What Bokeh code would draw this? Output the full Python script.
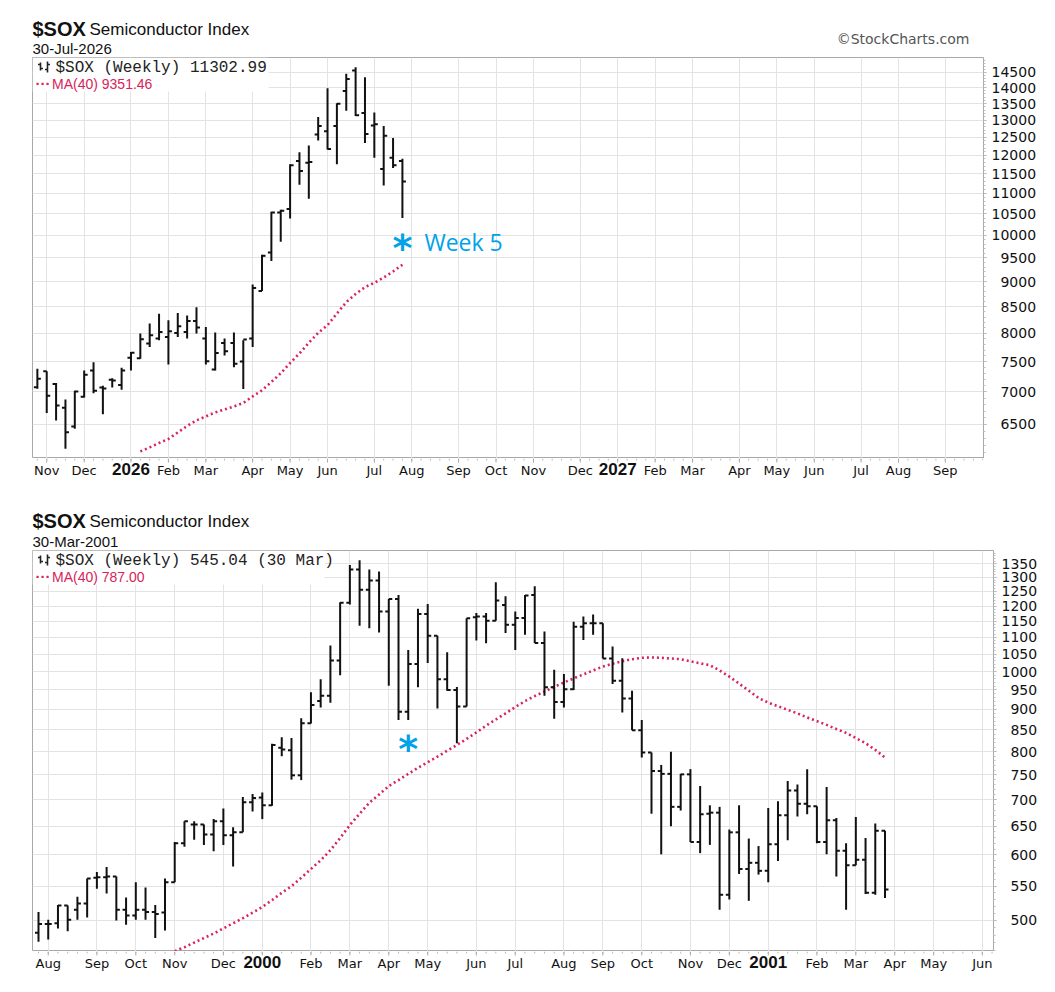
import pandas as pd
from bokeh.plotting import figure
from bokeh.layouts import column
from bokeh.models import Range1d, FixedTicker, Label, BoxAnnotation, ColumnDataSource
from bokeh.core.properties import value
from bokeh.embed import file_html
from bokeh.resources import INLINE

NaN = float("nan")

# ---------------- top chart: $SOX weekly, 27-Oct-2025 .. 27-Jul-2026 ----------------
top_first_week = "2025-10-27"
top_open = [7076, 7338, 7128, 6753, 6470, 6924, 7350, 7072, 7195, 7112,
            7566, 7559, 7816, 7905, 7934, 8006, 8024, 8228, 7905, 7367,
            7827, 7827, 7500, 7905, 8808, 9615, 10532, 10617, 11842, 11797,
            12579, 12676, 12824, 13890, 14557, 13209, 12845, 11632, 11929, 11842]
top_high = [7379, 7338, 7145, 6879, 7017, 7350, 7488, 7100, 7222, 7395,
            7666, 7995, 8180, 8365, 8241, 8376, 8333, 8487, 8117, 8013,
            7905, 8013, 7875, 8942, 9565, 10550, 10600, 11755, 12083, 12269,
            13094, 13982, 13509, 14447, 14666, 14333, 13228, 12824, 12481, 11903]
top_low = [7051, 6671, 6560, 6150, 6436, 6912, 6978, 6652, 7072, 7033,
           7350, 7548, 7755, 7875, 7450, 7934, 7905, 7995, 7450, 7350,
           7607, 7405, 7045, 7752, 8808, 9432, 9855, 10393, 11218, 10867,
           12408, 12158, 11755, 13281, 13125, 12339, 11929, 11200, 11658, 10402]
top_close = [7212, 6940, 6788, 6387, 7005, 7278, 7017, 7055, 7183, 7350,
             7655, 7893, 7964, 8024, 8037, 8130, 8228, 8106, 7505, 7648,
             7679, 7462, 7887, 8871, 9543, 10532, 10575, 11729, 11579, 11816,
             12824, 12175, 13491, 14280, 13147, 12597, 12876, 12547, 11729, 11302.99]
top_ma40 = [NaN] * 11 + [6113, 6169, 6232, 6289, 6382, 6478, 6560, 6620, 6680, 6726,
                         6772, 6826, 6928, 7027, 7160, 7304, 7476, 7641, 7829, 8008,
                         8149, 8369, 8586, 8750, 8886, 8975, 9085, 9209, 9351.46]
top_tick_dates = ["2025-11-03", "2025-12-01", "2026-01-05", "2026-02-02", "2026-03-02",
                  "2026-04-06", "2026-05-04", "2026-06-01", "2026-07-06", "2026-08-03",
                  "2026-09-07", "2026-10-05", "2026-11-02", "2026-12-07", "2027-01-04",
                  "2027-02-01", "2027-03-01", "2027-04-05", "2027-05-03", "2027-05-31",
                  "2027-07-05", "2027-08-02", "2027-09-06"]
top_tick_labels = ["Nov", "Dec", "2026", "Feb", "Mar", "Apr", "May", "Jun", "Jul", "Aug",
                   "Sep", "Oct", "Nov", "Dec", "2027", "Feb", "Mar", "Apr", "May", "Jun",
                   "Jul", "Aug", "Sep"]
top_y_ticks = [6500, 7000, 7500, 8000, 8500, 9000, 9500, 10000, 10500, 11000,
               11500, 12000, 12500, 13000, 13500, 14000, 14500]

# ---------------- bottom chart: $SOX weekly, 26-Jul-1999 .. 26-Mar-2001 ----------------
bot_first_week = "1999-07-26"
bot_open = [483, 495, 496, 521, 515, 524, 563, 564, 565, 515,
            507, 515, 512, 511, 556, 620, 653, 653, 635, 659,
            634, 639, 695, 704, 689, 809, 803, 749, 866, 921,
            935, 1031, 1211, 1329, 1256, 1289, 1182, 1224, 894, 1021,
            1174, 1105, 979, 950, 907, 1163, 1166, 1152, 1204, 1139,
            1161, 1238, 1083, 957, 919, 952, 1133, 1144, 1144, 1037,
            975, 928, 849, 798, 758, 752, 686, 751, 622, 673,
            675, 537, 639, 577, 587, 574, 618, 670, 718, 692,
            687, 622, 661, 607, 583, 592, 540, 642]
bot_high = [512, 501, 522, 521, 534, 562, 572, 580, 565, 533,
            556, 548, 522, 562, 622, 659, 659, 653, 663, 683,
            648, 705, 711, 714, 818, 833, 831, 878, 944, 979,
            1075, 1213, 1346, 1363, 1329, 1321, 1224, 1238, 1062, 1191,
            1207, 1105, 1055, 958, 1160, 1177, 1177, 1282, 1233, 1182,
            1238, 1268, 1118, 1005, 993, 1149, 1166, 1172, 1144, 1072,
            1038, 948, 874, 798, 771, 800, 752, 762, 727, 689,
            686, 644, 689, 628, 615, 684, 697, 737, 730, 762,
            687, 725, 665, 620, 667, 629, 655, 642]
bot_low = [471, 474, 489, 485, 501, 504, 546, 539, 500, 494,
           501, 501, 476, 486, 556, 614, 626, 617, 606, 617,
           581, 639, 677, 663, 688, 790, 740, 739, 865, 905,
           917, 990, 1205, 1136, 1128, 1115, 961, 874, 874, 957,
           1024, 902, 948, 819, 907, 1090, 1082, 1152, 1113, 1062,
           1108, 1083, 935, 877, 905, 950, 1092, 1108, 1037, 966,
           892, 849, 787, 673, 601, 650, 679, 622, 603, 617,
           515, 530, 569, 528, 568, 556, 590, 625, 668, 672,
           620, 601, 565, 515, 583, 538, 537, 532]
bot_close = [495, 495, 521, 501, 524, 562, 564, 565, 515, 507,
             515, 512, 509, 556, 620, 659, 653, 635, 659, 634,
             639, 695, 703, 689, 815, 805, 749, 866, 911, 935,
             1031, 1211, 1329, 1256, 1289, 1182, 1224, 894, 1021, 1174,
             1105, 979, 950, 907, 1160, 1166, 1152, 1219, 1139, 1161,
             1236, 1083, 957, 919, 952, 1133, 1144, 1144, 1037, 975,
             928, 849, 798, 758, 752, 686, 751, 622, 672, 675,
             537, 639, 577, 587, 574, 618, 670, 718, 692, 687,
             622, 661, 607, 583, 592, 540, 642, 545.04]
bot_ma40 = [NaN] * 14 + [459, 464, 470, 476, 482, 489, 496, 503, 511, 519,
                         529, 540, 550, 563, 577, 591, 608, 629, 652, 673,
                         694, 710, 727, 739, 752, 765, 777, 789, 802, 815,
                         829, 844, 860, 875, 890, 906, 921, 934, 946, 958,
                         970, 981, 992, 1003, 1014, 1022, 1029, 1035, 1039, 1040,
                         1039, 1037, 1035, 1029, 1023, 1018, 1003, 986, 967, 948,
                         929, 917, 908, 899, 890, 880, 871, 862, 852, 843,
                         831, 819, 804, 787.00]
bot_tick_dates = ["1999-08-02", "1999-09-06", "1999-10-04", "1999-11-01", "1999-12-06",
                  "2000-01-03", "2000-02-07", "2000-03-06", "2000-04-03", "2000-05-01",
                  "2000-06-05", "2000-07-03", "2000-08-07", "2000-09-04", "2000-10-02",
                  "2000-11-06", "2000-12-04", "2001-01-01", "2001-02-05", "2001-03-05",
                  "2001-04-02", "2001-04-30", "2001-06-04"]
bot_tick_labels = ["Aug", "Sep", "Oct", "Nov", "Dec", "2000", "Feb", "Mar", "Apr", "May",
                   "Jun", "Jul", "Aug", "Sep", "Oct", "Nov", "Dec", "2001", "Feb", "Mar",
                   "Apr", "May", "Jun"]
bot_y_ticks = [500, 550, 600, 650, 700, 750, 800, 850, 900, 950, 1000,
               1050, 1100, 1150, 1200, 1250, 1300, 1350]

WEEK = 7 * 86400000
RED = "#d8245a"
CYAN = "#00a2e8"
GRID = "#e3e3e3"
EDGE = "#a8a8a8"
INK = "#111111"
FH = 401
LEFT = 32


def ms(d):
    return pd.Timestamp(d).value // 10**6


def header(height, title_y, date_y, date_text, credit):
    w = 1000
    h = figure(frame_width=w, frame_height=height, x_range=Range1d(LEFT, LEFT + w),
               y_range=Range1d(0, height), x_axis_location=None, y_axis_location=None,
               toolbar_location=None, output_backend="svg", min_border_left=LEFT,
               min_border_right=0, min_border_top=0, min_border_bottom=0)
    h.grid.visible = False
    h.outline_line_color = None
    h.background_fill_color = "white"
    h.border_fill_color = "white"
    h.text(x=[LEFT], y=[title_y + 0.5], text=["$SOX"], text_font=value("Liberation Sans"),
           text_font_style="bold", text_font_size=value("20px"), text_color=INK,
           text_baseline="middle")
    h.text(x=[LEFT + 57], y=[title_y - 0.5], text=["Semiconductor Index"],
           text_font=value("Liberation Sans"), text_font_size=value("17px"),
           text_color=INK, text_baseline="middle")
    h.text(x=[LEFT], y=[date_y], text=[date_text], text_font=value("Liberation Sans"),
           text_font_size=value("15px"), text_color=INK, text_baseline="middle")
    if credit:
        h.text(x=[969], y=[title_y - 10], text=[credit], text_font=value("DejaVu Sans"),
               text_font_size=value("14px"), text_color="#555555", text_align="right",
               text_baseline="middle")
    return h


def chart(first_week, o, h, l, c, ma, tick_dates, tick_labels, y_ticks, y_minor,
          y_lo, y_hi, wk_lo, wk_hi, frame_w, strip_h, label_y,
          legend_main, legend_ma, box_w, pad, star_i, star_val, star_text):
    n = len(o)
    x0 = ms(first_week)
    xs = [x0 + i * WEEK for i in range(n)]
    ppw = frame_w / (wk_hi - wk_lo)
    d = 3.5 / ppw * WEEK
    xr = Range1d(x0 + wk_lo * WEEK, x0 + wk_hi * WEEK)
    p = figure(frame_width=frame_w, frame_height=FH, x_range=xr,
               y_range=Range1d(y_lo, y_hi), y_axis_type="log",
               y_axis_location="right", x_axis_location=None, toolbar_location=None,
               output_backend="svg", min_border_left=LEFT, min_border_top=0,
               min_border_bottom=0, min_border_right=8)
    p.background_fill_color = "white"
    p.border_fill_color = "white"
    p.outline_line_color = EDGE

    tms = [float(ms(t)) for t in tick_dates]
    p.xgrid.ticker = FixedTicker(ticks=tms)

    yt = FixedTicker(ticks=[float(v) for v in y_ticks], minor_ticks=[float(v) for v in y_minor])
    p.yaxis.ticker = yt
    p.ygrid.ticker = yt
    p.yaxis.major_label_overrides = {float(v): str(v).rjust(pad, "\u2007") for v in y_ticks}
    p.yaxis.major_label_text_font = "DejaVu Sans"
    p.yaxis.major_label_text_font_size = "14px"
    p.yaxis.major_label_text_color = INK
    p.yaxis.major_label_standoff = 5
    p.yaxis.axis_line_color = EDGE
    p.yaxis.major_tick_line_color = EDGE
    p.yaxis.major_tick_in = 0
    p.yaxis.major_tick_out = 3
    p.yaxis.minor_tick_line_color = "#c0c0c0"
    p.yaxis.minor_tick_in = 0
    p.yaxis.minor_tick_out = 2
    p.grid.grid_line_color = GRID
    p.grid.grid_line_width = 1

    src = ColumnDataSource(dict(x=xs, xl=[v - d for v in xs], xr=[v + d for v in xs],
                                o=o, h=h, l=l, c=c, ma=ma))
    p.line("x", "ma", source=src, line_color=RED, line_width=2.6, line_dash="2 3")
    for args in (("x", "l", "x", "h"), ("xl", "o", "x", "o"), ("x", "c", "xr", "c")):
        p.segment(*args, source=src, line_color=INK, line_width=2, line_cap="butt")

    def sbox(left, right, bottom, top, color):
        p.add_layout(BoxAnnotation(left=left, right=right, bottom=bottom, top=top,
                                   left_units="screen", right_units="screen",
                                   top_units="screen", bottom_units="screen",
                                   fill_color=color, fill_alpha=1.0, line_color=None))

    sbox(0, box_w, FH - 34, FH, "white")
    for (bx, b0, b1) in ((8, 388, 396), (15, 386, 397)):
        sbox(bx - 0.8, bx + 0.8, b0, b1, "#222222")
    for (tx0, tx1, ty) in ((5.5, 8, 394), (8, 10.5, 390), (12.5, 15, 389), (15, 17.5, 394)):
        sbox(tx0, tx1, ty - 0.8, ty + 0.8, "#222222")
    p.add_layout(Label(x=23, y=FH - 10.5, x_units="screen", y_units="screen",
                       text=legend_main, text_font="Liberation Mono",
                       text_font_size="16px", text_color="#222222",
                       text_baseline="middle"))
    p.add_layout(Label(x=3, y=FH - 26, x_units="screen", y_units="screen",
                       text="\u00b7\u00b7\u00b7", text_font="Liberation Sans",
                       text_font_style="bold", text_font_size="15px", text_color=RED,
                       text_baseline="middle"))
    p.add_layout(Label(x=19.5, y=FH - 26, x_units="screen", y_units="screen",
                       text=legend_ma, text_font="Liberation Sans",
                       text_font_size="14px", text_color=RED,
                       text_baseline="middle"))

    sx = xs[star_i]
    p.add_layout(Label(x=sx, y=star_val, text="*", text_font="DejaVu Sans",
                       text_font_style="bold", text_font_size="38px", text_color=CYAN,
                       text_align="center", text_baseline="middle", y_offset=-6))
    if star_text:
        p.add_layout(Label(x=sx, y=star_val, x_offset=22, text=star_text,
                           text_font="Open Sans", text_font_size="23px", text_color=CYAN,
                           text_align="left", text_baseline="middle"))

    # date axis strip below the frame
    s = figure(frame_width=frame_w, frame_height=strip_h, x_range=xr,
               y_range=Range1d(0, strip_h), x_axis_location=None, y_axis_location=None,
               toolbar_location=None, output_backend="svg", min_border_left=LEFT,
               min_border_right=0, min_border_top=0, min_border_bottom=0)
    s.grid.visible = False
    s.outline_line_color = None
    s.background_fill_color = "white"
    s.border_fill_color = "white"
    weeks = [float(x0 + k * WEEK) for k in range(int(wk_lo), int(wk_hi) + 1)]
    s.segment(x0=weeks, y0=[strip_h] * len(weeks), x1=weeks, y1=[strip_h - 2] * len(weeks),
              line_color="#b8b8b8", line_width=1)
    s.segment(x0=tms, y0=[strip_h] * len(tms), x1=tms, y1=[strip_h - 4] * len(tms),
              line_color=EDGE, line_width=1)
    mx = [t for t, lab in zip(tms, tick_labels) if not lab.isdigit()]
    ml = [lab for lab in tick_labels if not lab.isdigit()]
    yx = [t for t, lab in zip(tms, tick_labels) if lab.isdigit()]
    yl = [lab for lab in tick_labels if lab.isdigit()]
    s.text(x=mx, y=[label_y] * len(mx), text=ml, text_font=value("DejaVu Sans"),
           text_font_size=value("13px"), text_color=INK, text_align="center",
           text_baseline="middle")
    s.text(x=yx, y=[label_y + 0.7] * len(yx), text=yl, text_font=value("Liberation Sans"),
           text_font_style="bold", text_font_size=value("17px"), text_color=INK,
           text_align="center", text_baseline="middle")
    return p, s


h1 = header(57, 28.5, 9.3, "30-Jul-2026", "\u00a9StockCharts.com")
p1, s1 = chart(top_first_week, top_open, top_high, top_low, top_close, top_ma40,
               top_tick_dates, top_tick_labels, top_y_ticks, list(range(6100, 15000, 100)),
               6015, 14993, -0.52, 101.08, 951, 40, 28.5,
               "$SOX (Weekly) 11302.99", "MA(40) 9351.46", 236, 5, 39, 9845, "Week 5")
h2 = header(52, 29.2, 9, "30-Mar-2001", "")
p2, s2 = chart(bot_first_week, bot_open, bot_high, bot_low, bot_close, bot_ma40,
               bot_tick_dates, bot_tick_labels, bot_y_ticks, list(range(460, 1400, 10)),
               458.5, 1401, -0.617, 98.15, 961, 35, 23.5,
               "$SOX (Weekly) 545.04 (30 Mar)", "MA(40) 787.00", 292, 4, 38, 819, "")

layout = column(h1, p1, s1, h2, p2, s2, spacing=0)
open("out.html", "w").write(file_html(layout, INLINE))
